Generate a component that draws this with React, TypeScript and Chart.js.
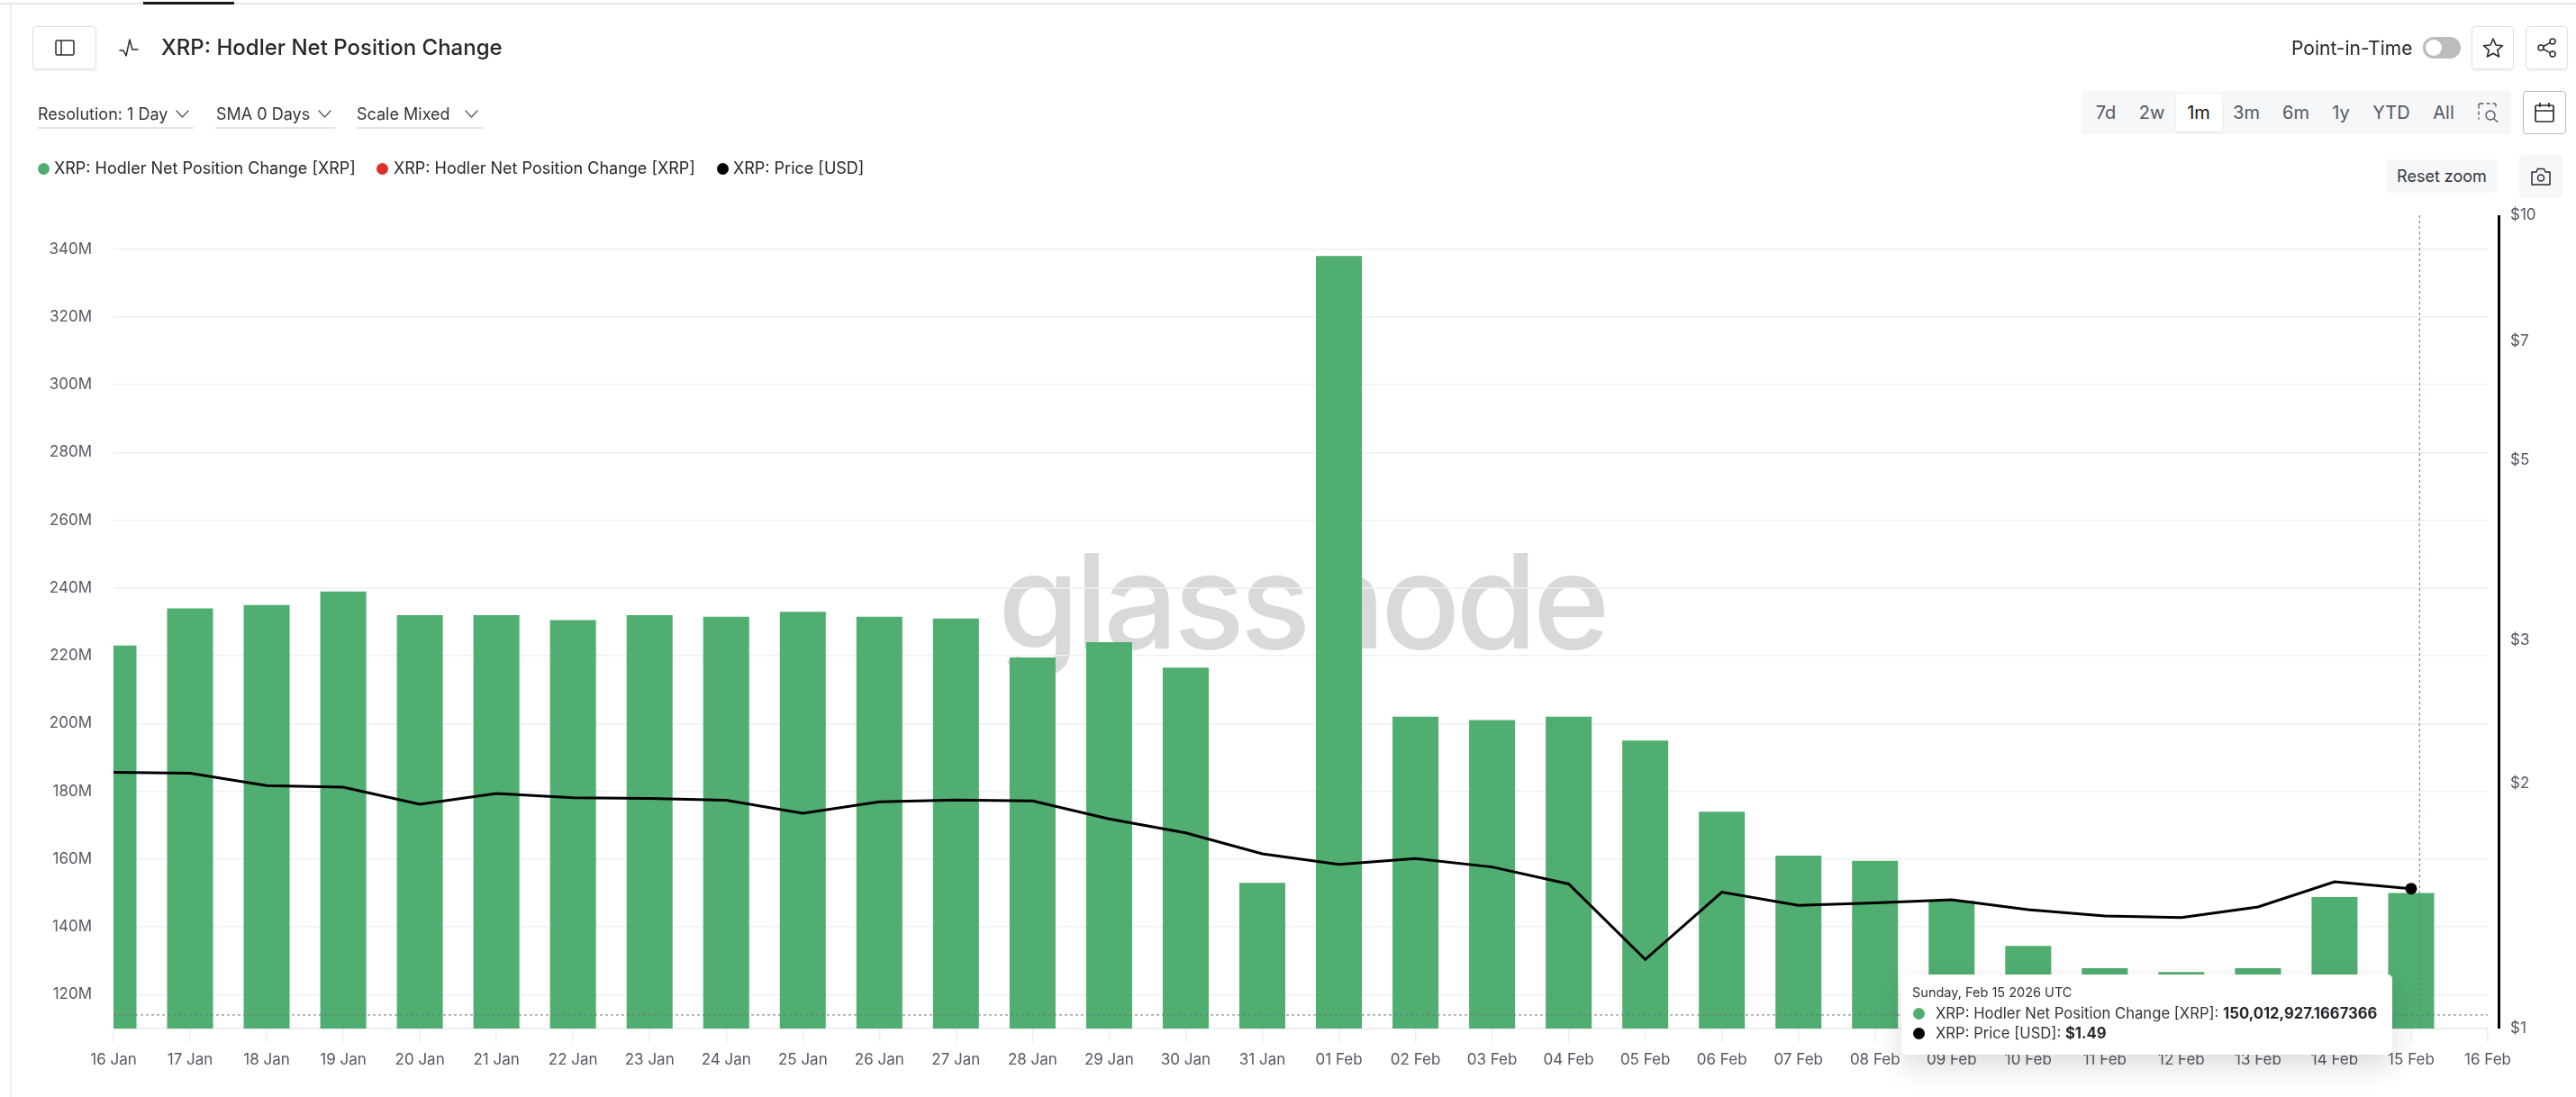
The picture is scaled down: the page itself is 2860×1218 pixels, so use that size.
import { useEffect, useRef } from 'react';
import { Chart, registerables } from 'chart.js';

Chart.register(...registerables);

const dates = [
  '16 Jan', '17 Jan', '18 Jan', '19 Jan', '20 Jan', '21 Jan', '22 Jan', '23 Jan', '24 Jan', '25 Jan', '26 Jan',
  '27 Jan', '28 Jan', '29 Jan', '30 Jan', '31 Jan', '01 Feb', '02 Feb', '03 Feb', '04 Feb', '05 Feb', '06 Feb',
  '07 Feb', '08 Feb', '09 Feb', '10 Feb', '11 Feb', '12 Feb', '13 Feb', '14 Feb', '15 Feb', '16 Feb',
];

// millions of XRP
const positionChange = [
  223, 234, 235, 239, 232, 232, 230.5, 232, 231.5, 233, 231.5, 231, 219.5, 224, 216.5, 153, 338, 202, 201, 202,
  195, 174, 161, 159.5, 147.7, 134.4, 127.8, 126.7, 127.8, 148.8, 150.01, null,
];
const negativeChange = dates.map(() => null);
const price = [
  2.066, 2.06, 1.99, 1.98, 1.887, 1.945, 1.922, 1.918, 1.909, 1.839, 1.9, 1.91, 1.905, 1.81, 1.74, 1.64, 1.592,
  1.618, 1.58, 1.506, 1.216, 1.471, 1.417, 1.427, 1.44, 1.4, 1.375, 1.369, 1.411, 1.515, 1.486, null,
];

const leftTicks = [120, 140, 160, 180, 200, 220, 240, 260, 280, 300, 320, 340];
const rightTicks = [1, 2, 3, 5, 7, 10];
const ranges = ['7d', '2w', '1m', '3m', '6m', '1y', 'YTD', 'All'];

// where the mouse was when the screenshot was taken
const hoverIndex = 30.11;
const hoverValue = 114;

const GREEN = '#50ae71';
const FONT = 'Inter, sans-serif';
const TICK = '#555860';

const crosshair = {
  id: 'crosshair',
  afterDatasetsDraw(chart: any) {
    const { ctx, chartArea, scales } = chart;
    const x = scales.x.getPixelForValue(hoverIndex);
    const y = scales.y.getPixelForValue(hoverValue);
    ctx.save();
    ctx.lineWidth = 1;
    ctx.setLineDash([3, 3]);
    ctx.strokeStyle = '#5d7a9a';
    ctx.beginPath();
    ctx.moveTo(x, chartArea.top);
    ctx.lineTo(x, chartArea.bottom);
    ctx.stroke();
    ctx.strokeStyle = '#70757c';
    ctx.beginPath();
    ctx.moveTo(chartArea.left, y);
    ctx.lineTo(chartArea.right, y);
    ctx.stroke();
    ctx.restore();
  },
};

// the price axis line sits a little to the right of the plot
const priceAxisLine = {
  id: 'priceAxisLine',
  afterDraw(chart: any) {
    const { ctx, chartArea } = chart;
    ctx.save();
    ctx.strokeStyle = '#000';
    ctx.lineWidth = 3;
    ctx.beginPath();
    ctx.moveTo(chartArea.right + 12.5, chartArea.top);
    ctx.lineTo(chartArea.right + 12.5, chartArea.bottom);
    ctx.stroke();
    ctx.restore();
  },
};

function Box({ x, y, w, h, style, children }: any) {
  return (
    <div
      style={{
        position: 'absolute',
        left: x,
        top: y,
        width: w,
        height: h,
        boxSizing: 'border-box',
        display: 'flex',
        alignItems: 'center',
        justifyContent: 'center',
        ...style,
      }}
    >
      {children}
    </div>
  );
}

function Label({ x, y, size, color = '#2a2c31', weight = 400, children, center }: any) {
  return (
    <div
      style={{
        position: 'absolute',
        left: x,
        top: y,
        transform: center ? 'translate(-50%, -50%)' : 'translateY(-50%)',
        fontSize: size,
        color,
        fontWeight: weight,
        whiteSpace: 'nowrap',
        lineHeight: 1,
      }}
    >
      {children}
    </div>
  );
}

function Icon({ x, y, w, h, box, children, stroke = '#2a2c31', width = 1.5 }: any) {
  return (
    <svg
      style={{ position: 'absolute', left: x, top: y }}
      width={w}
      height={h}
      viewBox={box}
      fill="none"
      stroke={stroke}
      strokeWidth={width}
      strokeLinecap="round"
      strokeLinejoin="round"
    >
      {children}
    </svg>
  );
}

const Chevron = ({ x }: { x: number }) => (
  <Icon x={x} y={121} w={15} h={11} box="0 0 15 11" stroke="#555" width={1.3}>
    <path d="M1 2l6.5 7L14 2" />
  </Icon>
);

const buttonStyle = { border: '1.5px solid #dfe0e3', borderRadius: 4, background: '#fff', boxShadow: '0 2px 2px #f1f1f3' };

const Dot = ({ x, y, color, r = 6.5 }: any) => (
  <div style={{ position: 'absolute', left: x - r, top: y - r, width: r * 2, height: r * 2, borderRadius: '50%', background: color }} />
);

const Underline = ({ x, w }: any) => (
  <div style={{ position: 'absolute', left: x, top: 141, width: w, height: 2, background: '#e3e4e8' }} />
);

const rangeCenters = [2338, 2389, 2441, 2494, 2549, 2599, 2655, 2713];

export default function App() {
  const chartRef = useRef<HTMLCanvasElement | null>(null);

  useEffect(() => {
    document.body.style.margin = '0';
    const ctx = chartRef.current?.getContext('2d');
    if (!ctx) return;

    const chart = new Chart(ctx, {
      type: 'bar',
      data: {
        labels: dates,
        datasets: [
          {
            label: 'XRP: Price [USD]',
            type: 'line',
            data: price,
            yAxisID: 'y1',
            borderColor: '#000',
            backgroundColor: '#000',
            borderWidth: 3,
            tension: 0,
            order: 1,
            pointRadius: (c: any) => (c.dataIndex === 30 ? 5 : 0),
          },
          {
            label: 'XRP: Hodler Net Position Change [XRP]',
            data: positionChange,
            yAxisID: 'y',
            backgroundColor: GREEN,
            grouped: false,
            order: 2,
          },
          {
            label: 'XRP: Hodler Net Position Change [XRP]',
            data: negativeChange,
            yAxisID: 'y',
            backgroundColor: '#e03127',
            grouped: false,
            order: 3,
          },
        ] as any,
      },
      options: {
        responsive: false,
        animation: false,
        events: [],
        layout: { padding: { top: 239, left: 0, right: 0, bottom: 0 } },
        datasets: { bar: { categoryPercentage: 1, barPercentage: 0.6 } },
        plugins: { legend: { display: false }, tooltip: { enabled: false } },
        scales: {
          x: {
            type: 'category',
            offset: false,
            afterFit: (s: any) => {
              s.height = 76;
            },
            border: { color: '#eeeef3', width: 2 },
            grid: { offset: false, drawOnChartArea: false, drawTicks: true, tickLength: 15, color: '#eeeef1', lineWidth: 1.5 },
            ticks: {
              autoSkip: false,
              maxRotation: 0,
              minRotation: 0,
              padding: 10,
              color: TICK,
              font: { family: FONT, size: 17 },
            },
          },
          y: {
            type: 'linear',
            position: 'left',
            min: 110,
            max: 350,
            afterFit: (s: any) => {
              s.width = 126;
            },
            afterBuildTicks: (s: any) => {
              s.ticks = leftTicks.map((value) => ({ value }));
            },
            border: { display: false },
            grid: { drawTicks: false, color: '#f0f0f4', lineWidth: 1.5 },
            ticks: {
              padding: 24,
              color: TICK,
              font: { family: FONT, size: 17 },
              callback: (v: any) => `${v}M`,
            },
          },
          y1: {
            type: 'logarithmic',
            position: 'right',
            min: 1,
            max: 10,
            afterFit: (s: any) => {
              s.width = 98;
            },
            afterBuildTicks: (s: any) => {
              s.ticks = rightTicks.map((value) => ({ value }));
            },
            border: { display: false },
            grid: { display: false, drawTicks: false },
            ticks: {
              padding: 25,
              color: TICK,
              font: { family: FONT, size: 17 },
              callback: (v: any) => `$${v}`,
            },
          },
        },
      },
      plugins: [crosshair, priceAxisLine],
    } as any);

    return () => chart.destroy();
  }, []);

  return (
    <div style={{ position: 'relative', width: 2860, height: 1218, overflow: 'hidden', background: '#fff', fontFamily: FONT }}>
      {/* page edges */}
      <div style={{ position: 'absolute', left: 0, top: 3, width: 2860, height: 2, background: '#e6e6e8' }} />
      <div style={{ position: 'absolute', left: 159, top: 2, width: 101, height: 3, background: '#17181c' }} />
      <div style={{ position: 'absolute', left: 11, top: 5, width: 1.5, height: 1213, background: '#eeeef0' }} />

      {/* watermark sits behind the transparent canvas */}
      <div
        style={{
          position: 'absolute',
          left: 1108,
          top: 708,
          transform: 'translateY(-78%)',
          fontSize: 146,
          fontWeight: 500,
          lineHeight: 1,
          color: '#d9d9d9',
          fontFamily: 'Inter, sans-serif',
          letterSpacing: -5,
        }}
      >
        glassnode
      </div>

      <canvas ref={chartRef} width={2860} height={1218} style={{ position: 'absolute', left: 0, top: 0 }} />

      {/* title row */}
      <Box x={36} y={29} w={71} h={48} style={buttonStyle}>
        <svg width={22} height={18} viewBox="0 0 22 18" fill="none" stroke="#2a2c31" strokeWidth={1.5}>
          <rect x={1} y={1} width={20} height={16} rx={1.5} />
          <path d="M7 1v16" />
        </svg>
      </Box>
      <Icon x={132} y={43} w={22} h={20} box="0 0 22 20">
        <path d="M1 13h4l3 6 4-18 3 11h6" />
      </Icon>
      <Label x={179} y={53} size={24} weight={500} color="#26282d">XRP: Hodler Net Position Change</Label>

      <Label x={2544} y={53} size={21} color="#26282d">Point-in-Time</Label>
      <div style={{ position: 'absolute', left: 2690, top: 41, width: 42, height: 24, borderRadius: 12, background: '#bcbcbc' }} />
      <Dot x={2702} y={53} color="#fff" r={9} />
      <Box x={2744} y={29} w={47} h={48} style={buttonStyle}>
        <svg width={24} height={24} viewBox="0 0 24 24" fill="none" stroke="#2a2c31" strokeWidth={1.6} strokeLinejoin="round">
          <path d="M12 2l3 7 7.5.7-5.7 5 1.8 7.3L12 18.2 5.400 22l1.800-7.300-5.700-5L9 9z" />
        </svg>
      </Box>
      <Box x={2804} y={29} w={47} h={48} style={buttonStyle}>
        <svg width={22} height={22} viewBox="0 0 22 22" fill="none" stroke="#2a2c31" strokeWidth={1.5}>
          <circle cx={4} cy={11} r={3} />
          <circle cx={17} cy={4} r={3} />
          <circle cx={17} cy={18} r={3} />
          <path d="M6.700 9.500l7.700-4.100M6.700 12.500l7.700 4.100" />
        </svg>
      </Box>

      {/* dropdowns */}
      <Label x={42} y={127} size={18} color="#33353a">Resolution: 1 Day</Label>
      <Chevron x={195} />
      <Underline x={42} w={173} />
      <Label x={240} y={127} size={18} color="#33353a">SMA 0 Days</Label>
      <Chevron x={353} />
      <Underline x={239} w={133} />
      <Label x={396} y={127} size={18} color="#33353a">Scale Mixed</Label>
      <Chevron x={516} />
      <Underline x={396} w={140} />

      {/* range picker */}
      <div style={{ position: 'absolute', left: 2311, top: 101, width: 477, height: 48, borderRadius: 4, background: '#f6f7f9' }} />
      <div style={{ position: 'absolute', left: 2416, top: 104, width: 51, height: 42, borderRadius: 3, background: '#fff', boxShadow: '0 1px 3px #e2e3e6' }} />
      {ranges.map((r, i) => (
        <Label key={r} x={rangeCenters[i]} y={125} size={20} center color={r === '1m' ? '#16171a' : '#55585f'}>
          {r}
        </Label>
      ))}
      <Icon x={2751} y={114} w={23} h={22} box="0 0 23 22" stroke="#55585f" width={1.4}>
        <path d="M1 6V2.500Q1 1 2.500 1H6M10 1h3M17 1h1.500Q20 1 20 2.500V4M1 10v3M1 17v1" />
        <circle cx={14} cy={14} r={5} />
        <path d="M18 18l4 3.500" />
      </Icon>
      <Box x={2801} y={101} w={48} h={48} style={{ border: '1.5px solid #b9bbc0', borderRadius: 4 }}>
        <svg width={24} height={24} viewBox="0 0 24 24" fill="none" stroke="#2a2c31" strokeWidth={1.7}>
          <rect x={2} y={4} width={20} height={18} rx={1.5} />
          <path d="M2 10h20M7 1v5M17 1v5" />
        </svg>
      </Box>

      {/* chart actions */}
      <Box x={2649} y={177} w={124} h={37} style={{ background: '#f6f7f9', borderRadius: 5, fontSize: 18, color: '#33353a' }}>
        Reset zoom
      </Box>
      <Box x={2797} y={172} w={48} h={48} style={{ background: '#f6f7f9', borderRadius: 5 }}>
        <svg width={22} height={20} viewBox="0 0 22 20" fill="none" stroke="#2a2c31" strokeWidth={1.5} strokeLinejoin="round">
          <path d="M1 5h5l1.500-3.500h7L16 5h5v14H1z" />
          <circle cx={11} cy={11.500} r={3.500} />
        </svg>
      </Box>

      {/* legend */}
      <Dot x={48} y={187} color={GREEN} />
      <Label x={60} y={187} size={18} color="#26282d">XRP: Hodler Net Position Change [XRP]</Label>
      <Dot x={424} y={187} color="#e03127" />
      <Label x={437} y={187} size={18} color="#26282d">XRP: Hodler Net Position Change [XRP]</Label>
      <Dot x={802} y={187} color="#000" />
      <Label x={814} y={187} size={18} color="#26282d">XRP: Price [USD]</Label>

      {/* tooltip */}
      <div
        style={{
          position: 'absolute',
          left: 2111,
          top: 1082,
          width: 545,
          height: 89,
          borderRadius: 5,
          background: '#fff',
          boxShadow: '0 12px 30px rgba(30, 32, 40, 0.16)',
        }}
      />
      <Label x={2123} y={1102} size={14.5} color="#33353a">Sunday, Feb 15 2026 UTC</Label>
      <Dot x={2130} y={1125} color={GREEN} />
      <Label x={2149} y={1125} size={16.65} color="#33353a">
        XRP: Hodler Net Position Change [XRP]: <b style={{ fontWeight: 700, color: '#26282d' }}>150,012,927.1667366</b>
      </Label>
      <Dot x={2130} y={1147} color="#000" />
      <Label x={2149} y={1147} size={16.65} color="#33353a">
        XRP: Price [USD]: <b style={{ fontWeight: 700, color: '#26282d' }}>$1.49</b>
      </Label>
    </div>
  );
}
